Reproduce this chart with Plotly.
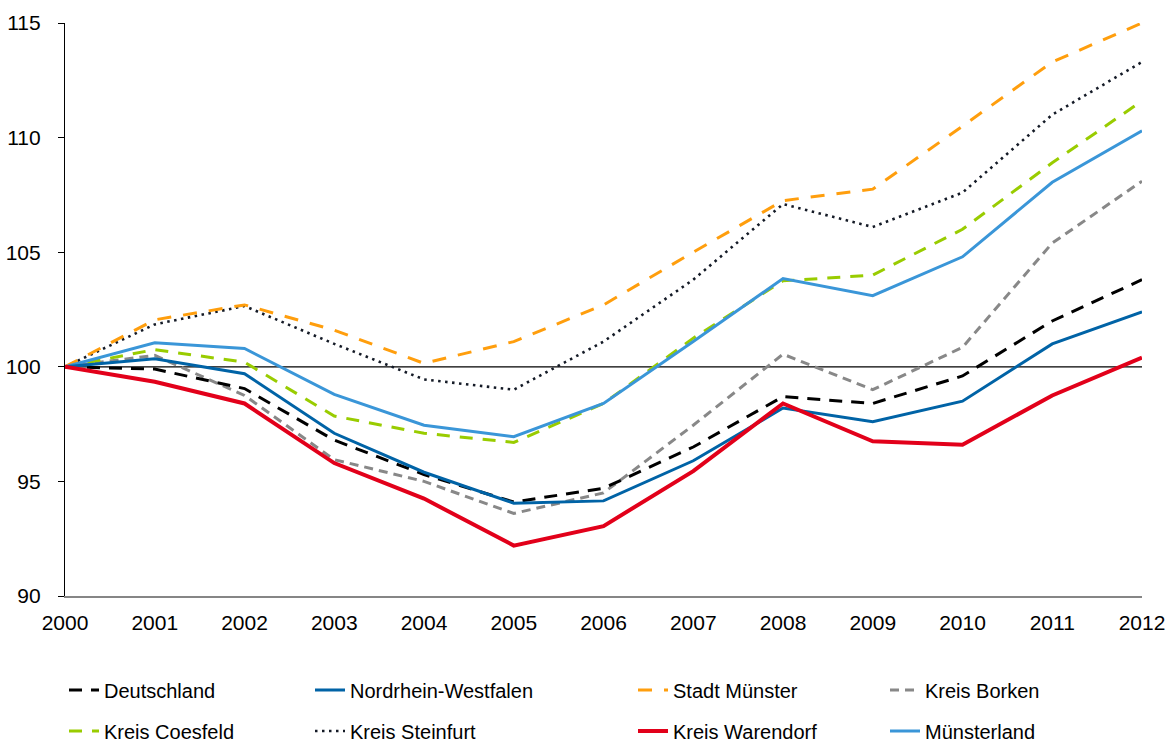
import plotly.graph_objects as go

years = list(range(2000, 2013))

deutschland = [100, 99.9, 99.05, 96.8, 95.3, 94.1, 94.7, 96.5, 98.7, 98.4, 99.6, 102.0, 103.8]
nrw = [100, 100.35, 99.7, 97.1, 95.4, 94.05, 94.15, 95.9, 98.2, 97.6, 98.5, 101.0, 102.4]
stadt_muenster = [100, 102.05, 102.7, 101.6, 100.15, 101.1, 102.7, 105.0, 107.25, 107.75, 110.5, 113.3, 115.0]
kreis_borken = [100, 100.5, 98.75, 95.95, 95.0, 93.6, 94.5, 97.45, 100.55, 99.0, 100.85, 105.4, 108.1]
kreis_coesfeld = [100, 100.75, 100.2, 97.85, 97.1, 96.7, 98.4, 101.25, 103.75, 104.0, 106.0, 108.9, 111.6]
kreis_steinfurt = [100, 101.85, 102.65, 101.0, 99.45, 99.0, 101.1, 103.8, 107.1, 106.1, 107.6, 111.0, 113.3]
kreis_warendorf = [100, 99.35, 98.4, 95.8, 94.25, 92.2, 93.05, 95.45, 98.4, 96.75, 96.6, 98.75, 100.4]
muensterland = [100, 101.05, 100.8, 98.8, 97.45, 96.95, 98.4, 101.1, 103.85, 103.1, 104.8, 108.05, 110.3]

names = ["Deutschland", "Nordrhein-Westfalen", "Stadt Münster", "Kreis Borken",
         "Kreis Coesfeld", "Kreis Steinfurt", "Kreis Warendorf", "Münsterland"]
series = [deutschland, nrw, stadt_muenster, kreis_borken,
          kreis_coesfeld, kreis_steinfurt, kreis_warendorf, muensterland]
styles = [
    dict(color="#000000", width=3, dash="13px,9px"),
    dict(color="#0063A6", width=3, dash="solid"),
    dict(color="#FF9E0D", width=3, dash="14px,12px"),
    dict(color="#888888", width=3, dash="9px,6px"),
    dict(color="#99CC00", width=3, dash="13px,10px"),
    dict(color="#141A26", width=2.6, dash="2.5px,4.5px"),
    dict(color="#E2001A", width=4, dash="solid"),
    dict(color="#3A96D8", width=3, dash="solid"),
]
# legend slots: (text start x px, row centre y px)
legend_pos = [(104, 690), (350, 690), (673, 690), (925, 690),
              (104, 731), (350, 731), (673, 731), (925, 731)]
draw_order = [3, 0, 4, 5, 2, 7, 1, 6]

W, H = 1168, 742
ML, MR, MT, MB = 65, 26, 23, 146
PW, PH = W - ML - MR, H - MT - MB
FONT = "Liberation Sans, Arial, sans-serif"

fig = go.Figure()
for i in draw_order:
    lname = "legend" if i == 0 else f"legend{i+1}"
    fig.add_trace(go.Scatter(x=years, y=series[i], mode="lines", name=names[i],
                             line=styles[i], legend=lname, showlegend=True))

layout_legends = {}
for i, (px, py) in enumerate(legend_pos):
    lname = "legend" if i == 0 else f"legend{i+1}"
    layout_legends[lname] = dict(
        xref="paper", yref="paper",
        x=(px - 40 - ML) / PW, y=(H - MB - py) / PH, xanchor="left", yanchor="middle",
        font=dict(family=FONT, size=20, color="#000000"),
        bgcolor="rgba(0,0,0,0)", borderwidth=0,
    )

fig.add_shape(type="line", xref="x", yref="y", x0=2000, x1=2012, y0=100, y1=100,
              line=dict(color="#000000", width=1.2), layer="below")

fig.update_layout(
    width=W, height=H, showlegend=True,
    margin=dict(l=ML, r=MR, t=MT, b=MB, autoexpand=False),
    plot_bgcolor="white", paper_bgcolor="white",
    font=dict(family=FONT, size=20, color="#000000"),
    **layout_legends,
)
fig.update_xaxes(range=[2000, 2012], dtick=1, tick0=2000, showgrid=False, zeroline=False,
                 showline=True, linecolor="#868686", linewidth=1.5, ticks="",
                 tickangle=0, ticklabelstandoff=7, tickfont=dict(family=FONT, size=21, color="#000000"))
fig.update_yaxes(range=[90, 115], dtick=5, tick0=90, showgrid=False, zeroline=False,
                 showline=True, linecolor="#000000", linewidth=1.2, ticks="outside",
                 ticklen=6, tickcolor="#000000", ticklabelstandoff=13,
                 tickfont=dict(family=FONT, size=21, color="#000000"))

fig.write_html("out.html", config={"displayModeBar": False},
               post_script="document.body.style.margin='0';document.body.style.overflow='hidden';")
